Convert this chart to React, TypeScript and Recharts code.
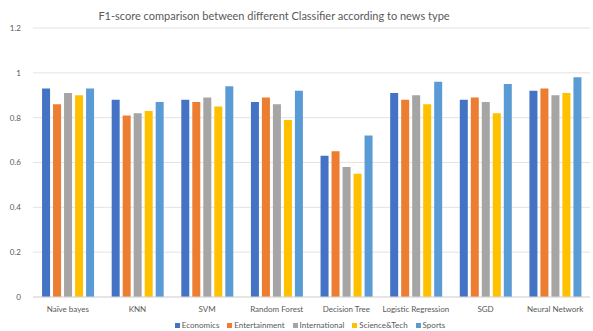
import React from "react";
import { BarChart, Bar, XAxis, YAxis, CartesianGrid, Legend } from "recharts";

const categories = ["Naïve bayes", "KNN", "SVM", "Random Forest", "Decision Tree", "Logistic Regression", "SGD", "Neural Network"];
const economics = [0.93, 0.88, 0.88, 0.87, 0.63, 0.91, 0.88, 0.92];
const entertainment = [0.86, 0.81, 0.87, 0.89, 0.65, 0.88, 0.89, 0.93];
const international = [0.91, 0.82, 0.89, 0.86, 0.58, 0.90, 0.87, 0.90];
const scienceTech = [0.90, 0.83, 0.85, 0.79, 0.55, 0.86, 0.82, 0.91];
const sports = [0.93, 0.87, 0.94, 0.92, 0.72, 0.96, 0.95, 0.98];
const yTicks = [0, 0.2, 0.4, 0.6, 0.8, 1, 1.2];

const seriesNames = ["Economics", "Entertainment", "International", "Science&Tech", "Sports"];
const seriesValues = [economics, entertainment, international, scienceTech, sports];
const colors = ["#4472C4", "#ED7D31", "#A5A5A5", "#FFC000", "#5B9BD5"];

const data = categories.map((c, i) => {
  const row: Record<string, string | number> = { name: c };
  seriesNames.forEach((s, k) => {
    row[s] = seriesValues[k][i];
  });
  return row;
});

const FONT = "Lato, 'Open Sans', sans-serif";

const renderLegend = (props: any) => {
  const payload = props.payload || [];
  return (
    <div style={{ display: "flex", justifyContent: "center", alignItems: "center", gap: 8, fontSize: 8, fontFamily: FONT, color: "#595959", paddingLeft: 30 }}>
      {payload.map((p: any) => (
        <span key={p.value} style={{ display: "inline-flex", alignItems: "center" }}>
          <span style={{ display: "inline-block", width: 5, height: 5, background: p.color, marginRight: 2 }} />
          {p.value}
        </span>
      ))}
    </div>
  );
};

export default function App() {
  return (
    <div style={{ position: "absolute", left: 0, top: 0, width: 593, height: 331, background: "#fff", fontFamily: FONT }}>
      <div
        style={{
          position: "absolute",
          left: 0,
          width: 548,
          top: 9,
          textAlign: "center",
          fontSize: 11,
          color: "#595959",
          fontFamily: FONT,
        }}
      >
        F1-score comparison between different Classifier according to news type
      </div>
      <BarChart
        width={593}
        height={331}
        data={data}
        margin={{ top: 28, right: 3, bottom: 0, left: 0 }}
        barCategoryGap="13%"
        barGap={3}
      >
        <CartesianGrid vertical={false} stroke="#E3E3E3" />
        <XAxis
          dataKey="name"
          tickLine={false}
          axisLine={{ stroke: "#D9D9D9" }}
          tick={{ fontSize: 8, fill: "#595959", fontFamily: FONT }}
          tickMargin={3}
          interval={0}
          height={20}
        />
        <YAxis
          domain={[0, 1.2]}
          ticks={yTicks}
          tickLine={false}
          axisLine={false}
          width={33}
          tickMargin={6}
          tick={{ fontSize: 8, fill: "#595959", fontFamily: FONT }}
          tickFormatter={(v: number) => String(Math.round(v * 10) / 10)}
        />
        <Legend
          verticalAlign="bottom"
          height={14}
          content={renderLegend}
          wrapperStyle={{ bottom: -3 }}
        />
        {seriesNames.map((s, k) => (
          <Bar key={s} dataKey={s} fill={colors[k]} isAnimationActive={false} />
        ))}
      </BarChart>
    </div>
  );
}
